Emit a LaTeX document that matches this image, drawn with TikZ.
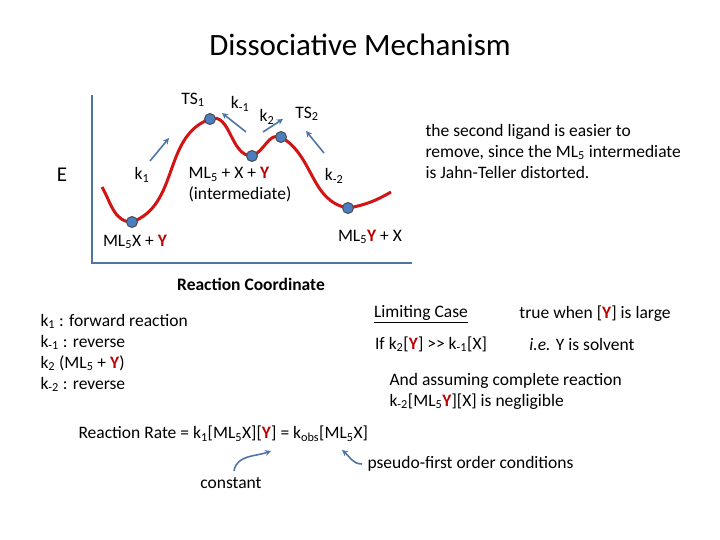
\documentclass[tikz,border=0pt]{standalone}
\usepackage{fontspec}
\setmainfont{Carlito}
\usetikzlibrary{arrows.meta}
\definecolor{axisblue}{HTML}{4F75A8}
\definecolor{dotblue}{HTML}{4A7EC0}
\definecolor{curvered}{HTML}{D21414}
\definecolor{ycol}{HTML}{C00000}
\newcommand{\Yr}{\textcolor{ycol}{\textbf{Y}}}
\newcommand{\sbs}[1]{\textsubscript{#1}}
\begin{document}
\begin{tikzpicture}[x=1pt,y=-1pt,every node/.style={font=\fontsize{17.5}{21}\selectfont},
  state/.style={circle, draw=black!70, fill=dotblue, inner sep=0pt, minimum size=11pt, line width=1pt},
  karrow/.style={axisblue, line width=1.6pt, -{Stealth[length=6pt,width=6pt]}}]
\useasboundingbox (0,0) rectangle (720,540);
\node (title) at (360,45) {\fontsize{31}{36}\selectfont Dissociative Mechanism};
% axes
\coordinate (O) at (92,263);
\draw[axisblue, line width=2.5pt] (92,95) -- (O) -- (412,263);
\node (E) at (62,175) {\fontsize{21}{24}\selectfont E};
\node[font=\bfseries\fontsize{17.5}{21}\selectfont] (rc) at (251,284) {Reaction Coordinate};
% energy profile
\coordinate (start) at (102,187);
\coordinate (min1) at (132,222);
\coordinate (ts1) at (210,119);
\coordinate (int) at (252,156);
\coordinate (ts2) at (281,137);
\coordinate (min2) at (348,208);
\coordinate (end) at (391,192);
\draw[curvered, line width=3pt] (start) to[out=-60,in=180] (min1)
  to[out=20,in=200] (ts1) to[out=20,in=180] (int) to[out=20,in=160] (ts2)
  to[out=-30,in=170] (min2) to[out=10,in=210] (end);
\foreach \p in {min1,ts1,int,ts2,min2} \node[state] at (\p) {};
% rate arrows
\draw[karrow] (150,161) -- (169,138);
\draw[karrow] (246,132) -- (222,113);
\draw[karrow] (263,132) -- (283,119);
\draw[karrow] (324,153) -- (306,131);
\node (lts1) at (193,100) {TS\sbs{1}};
\node (lkm1) at (240,104) {k\sbs{-1}};
\node (lk2) at (267,117) {k\sbs{2}};
\node (lts2) at (307,114) {TS\sbs{2}};
\node (lk1) at (142,175) {k\sbs{1}};
\node (lkm2) at (334,176) {k\sbs{-2}};
\node[align=left] (lint) at (240,185) {ML\sbs{5} + X + \Yr\\(intermediate)};
\node (lr) at (135,242) {ML\sbs{5}X + \Yr};
\node (lp) at (370,237) {ML\sbs{5}\Yr{} + X};
\node[align=left, anchor=west] (note) at (422,151) {the second ligand is easier to\\remove, since the ML\sbs{5} intermediate\\is Jahn-Teller distorted.};
% legend
\node[align=left, anchor=west] (legend) at (37,353) {k\sbs{1} : forward reaction\\k\sbs{-1} : reverse\\k\sbs{2} (ML\sbs{5} + \Yr)\\k\sbs{-2} : reverse};
\node (lim) at (421,314) {\underline{Limiting Case}};
\node (true) at (595,314) {true when [\Yr] is large};
\node (cond) at (431,344) {If k\sbs{2}[\Yr] >{}> k\sbs{-1}[X]};
\node (ie) at (582,344) {\textit{i.e.} Y is solvent};
\node[align=left, anchor=west] (assume) at (386,391) {And assuming complete reaction\\k\sbs{-2}[ML\sbs{5}\Yr][X] is negligible};
\node[anchor=west] (rate) at (75,434) {Reaction Rate = k\sbs{1}[ML\sbs{5}X][\Yr] = k\sbs{obs}[ML\sbs{5}X]};
\node (const) at (231,483) {constant};
\node[anchor=west] (pseudo) at (364,464) {pseudo-first order conditions};
\draw[karrow] (const.north) ++(3,-3) to[out=80,in=200] (271,451);
\draw[karrow] (pseudo.west) ++(-2,0) to[out=180,in=-40] (342,450);
\end{tikzpicture}
\end{document}
